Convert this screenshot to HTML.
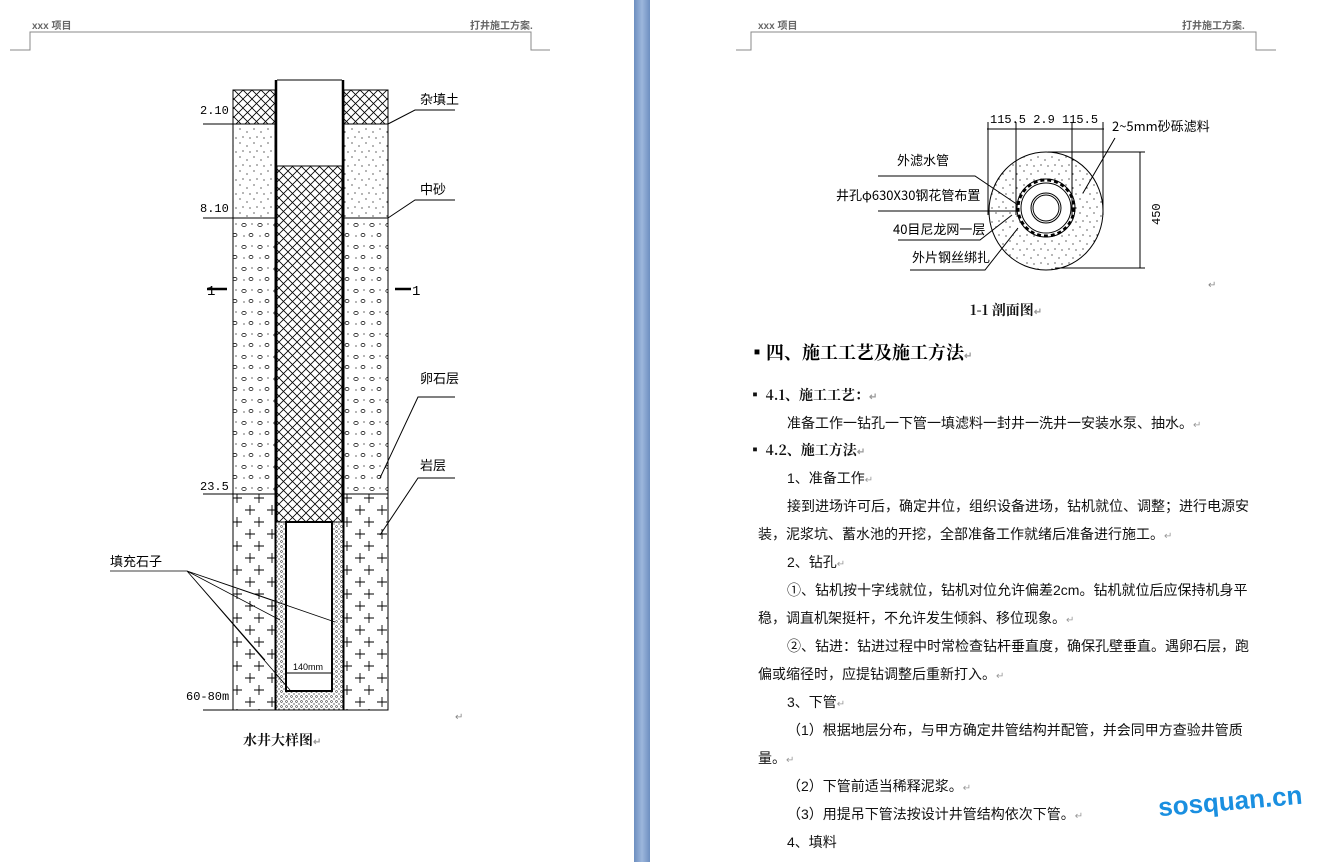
<!DOCTYPE html>
<html><head><meta charset="utf-8">
<style>
body{margin:0;width:1328px;height:862px;overflow:hidden;background:#fff;font-family:"Liberation Serif","Noto Serif CJK SC","Noto Sans CJK SC",serif;position:relative}
.abs{position:absolute;white-space:nowrap}
.bar{position:absolute;left:634px;top:0;width:16px;height:862px;background:linear-gradient(90deg,#6d8fc0,#9cb6dc 50%,#6d8fc0)}
.hd{font-size:10px;color:#666;font-family:"Liberation Sans","Noto Sans CJK SC",sans-serif;font-weight:bold}
.t{font-size:14px;color:#111;font-family:"Liberation Sans","Noto Sans CJK SC",sans-serif}
.b{font-weight:bold;font-family:"Noto Serif CJK SC",serif}
.r{color:#999;font-size:10px}
</style></head><body>
<div class="bar"></div>
<svg class="abs" style="left:0;top:0" width="1328" height="862">
<defs>
<pattern id="x" width="9" height="9" patternUnits="userSpaceOnUse"><path d="M0 0L9 9M9 0L0 9" stroke="#000" stroke-width="0.8"/></pattern>
<pattern id="d" width="14" height="14" patternUnits="userSpaceOnUse"><circle cx="2" cy="3" r=".6"/><circle cx="9" cy="6" r=".6"/><circle cx="5" cy="11" r=".6"/><circle cx="12" cy="12" r=".6"/></pattern>
<pattern id="g" width="16" height="22" patternUnits="userSpaceOnUse"><ellipse cx="4" cy="5" rx="2.2" ry="1.6" fill="none" stroke="#000" stroke-width=".7"/><ellipse cx="11" cy="15" rx="2" ry="1.6" fill="none" stroke="#000" stroke-width=".7"/><circle cx="12" cy="4" r=".6"/><circle cx="4" cy="16" r=".6"/></pattern>
<pattern id="p" width="22" height="24" patternUnits="userSpaceOnUse"><path d="M3 6h10M8 1v10M12 18h10M17 13v10" stroke="#000" stroke-width=".9"/></pattern>
<pattern id="s" width="5" height="5" patternUnits="userSpaceOnUse"><circle cx="1.5" cy="1.5" r="1" fill="none" stroke="#000" stroke-width=".5"/><circle cx="4" cy="4" r=".6"/></pattern>
</defs>
<!-- headers -->
<g stroke="#888" fill="none" stroke-width="1"><path d="M10 50H30V32H531V50H550"/><path d="M736 50H751V32H1256V50H1276"/></g>
<!-- left diagram -->
<g stroke="#000">
<rect x="233" y="90" width="42" height="34" fill="url(#x)"/><rect x="344" y="90" width="44" height="34" fill="url(#x)"/>
<rect x="233" y="124" width="42" height="94" fill="url(#d)"/><rect x="344" y="124" width="44" height="94" fill="url(#d)"/>
<rect x="233" y="218" width="42" height="276" fill="url(#g)"/><rect x="344" y="218" width="44" height="276" fill="url(#g)"/>
<rect x="233" y="494" width="42" height="216" fill="url(#p)"/><rect x="344" y="494" width="44" height="216" fill="url(#p)"/>
<rect x="277" y="166" width="65" height="356" fill="url(#x)"/>
<rect x="276" y="522" width="67" height="188" fill="url(#s)"/>
<rect x="286" y="522" width="46" height="169" fill="#fff" stroke-width="2"/>
<path d="M276 80V522M343 80V522" stroke-width="2.5" fill="none"/>
<path d="M277 80H342M277 166H342" fill="none"/>
<path d="M203 124H233M203 218H233M203 494H233M203 710H388M286 673H332" fill="none"/>
<path d="M207 289h20M395 289h16" stroke-width="2.5"/>
<path d="M388 124L415 110H455M388 218L415 200H455M380 478L418 397H455M380 535L418 478H455" fill="none"/>
<path d="M110 571H187L275 601M187 571L335 622M187 571L280 620M187 571L290 690M187 571L265 660" fill="none" stroke-width=".8"/>
</g>
<g font-size="12" font-family="Liberation Mono,monospace">
<text x="200" y="114">2.10</text><text x="200" y="212">8.10</text><text x="200" y="490">23.5</text><text x="186" y="700">60-80m</text>
<text x="207" y="295" font-size="14">1</text><text x="412" y="295" font-size="14">1</text>
<text x="293" y="670" font-size="9" font-family="Liberation Sans,sans-serif">140mm</text>
</g>
<g font-size="13" font-family="Noto Sans CJK SC,sans-serif">
<text x="420" y="104">杂填土</text><text x="420" y="194">中砂</text><text x="420" y="383">卵石层</text><text x="420" y="470">岩层</text><text x="110" y="566">填充石子</text>
</g>
<!-- right diagram -->
<g stroke="#000" fill="none">
<ellipse cx="1046" cy="211" rx="57" ry="59" fill="url(#d)"/>
<circle cx="1046" cy="208" r="29" fill="#fff"/>
<circle cx="1046" cy="208" r="28" stroke-dasharray="4 3" stroke-width="3"/>
<circle cx="1046" cy="208" r="25"/><circle cx="1046" cy="208" r="15"/><circle cx="1046" cy="208" r="13"/>
<path d="M988 122V215M1016 122V215M1072 122V215M1103 122V215M987 129H1104M1048 152H1145M1055 268H1145M1140 152V268"/>
<path d="M878 176H975L1018 205M878 211H1016M898 240H980L1012 215M910 270H985L1018 228M1083 193L1115 138"/>
</g>
<g font-size="13" font-family="Noto Sans CJK SC,sans-serif">
<text x="990" y="123" font-family="Liberation Mono,monospace" font-size="12">115.5  2.9  115.5</text>
<text x="1112" y="131">2~5mm砂砾滤料</text>
<text x="897" y="165">外滤水管</text>
<text x="836" y="200">井孔φ630X30钢花管布置</text>
<text x="893" y="234">40目尼龙网一层</text>
<text x="912" y="262">外片钢丝绑扎</text>
<text transform="translate(1160,225) rotate(-90)" font-family="Liberation Mono,monospace" font-size="12">450</text>
</g>
<text x="1208" y="288" font-size="10" fill="#888">↵</text>
<text x="455" y="720" font-size="10" fill="#888">↵</text>
</svg>
<div class="abs hd" style="left:32px;top:17px">xxx 项目</div>
<div class="abs hd" style="left:470px;top:17px">打井施工方案.</div>
<div class="abs hd" style="left:758px;top:17px">xxx 项目</div>
<div class="abs hd" style="left:1182px;top:17px">打井施工方案.</div>
<div class="abs t b" style="left:243px;top:730px">水井大样图<span class="r">↵</span></div>
<div class="abs t b" style="left:970px;top:300px">1-1 剖面图<span class="r">↵</span></div>
<div class="abs b" style="left:748px;top:339px;font-size:18px">▪四、施工工艺及施工方法<span class="r">↵</span></div>
<div class="abs t b" style="left:748px;top:385px">▪ 4.1、施工工艺：<span class="r">↵</span></div>
<div class="abs t" style="left:787px;top:413px">准备工作一钻孔一下管一填滤料一封井一洗井一安装水泵、抽水。<span class="r">↵</span></div>
<div class="abs t b" style="left:748px;top:440px">▪ 4.2、施工方法<span class="r">↵</span></div>
<div class="abs t" style="left:787px;top:468px">1、准备工作<span class="r">↵</span></div>
<div class="abs t" style="left:787px;top:496px">接到进场许可后，确定井位，组织设备进场，钻机就位、调整；进行电源安</div>
<div class="abs t" style="left:758px;top:524px">装，泥浆坑、蓄水池的开挖，全部准备工作就绪后准备进行施工。<span class="r">↵</span></div>
<div class="abs t" style="left:787px;top:552px">2、钻孔<span class="r">↵</span></div>
<div class="abs t" style="left:787px;top:580px">①、钻机按十字线就位，钻机对位允许偏差2cm。钻机就位后应保持机身平</div>
<div class="abs t" style="left:758px;top:608px">稳，调直机架挺杆，不允许发生倾斜、移位现象。<span class="r">↵</span></div>
<div class="abs t" style="left:787px;top:636px">②、钻进：钻进过程中时常检查钻杆垂直度，确保孔壁垂直。遇卵石层，跑</div>
<div class="abs t" style="left:758px;top:664px">偏或缩径时，应提钻调整后重新打入。<span class="r">↵</span></div>
<div class="abs t" style="left:787px;top:692px">3、下管<span class="r">↵</span></div>
<div class="abs t" style="left:787px;top:720px">（1）根据地层分布，与甲方确定井管结构并配管，并会同甲方查验井管质</div>
<div class="abs t" style="left:758px;top:748px">量。<span class="r">↵</span></div>
<div class="abs t" style="left:787px;top:776px">（2）下管前适当稀释泥浆。<span class="r">↵</span></div>
<div class="abs t" style="left:787px;top:804px">（3）用提吊下管法按设计井管结构依次下管。<span class="r">↵</span></div>
<div class="abs t" style="left:787px;top:832px">4、填料</div>
<div class="abs" style="left:1158px;top:786px;font-size:26px;color:#1a8fe0;font-family:'Liberation Sans',sans-serif;font-weight:bold;transform:rotate(-5deg)">sosquan.cn</div>
</body></html>
